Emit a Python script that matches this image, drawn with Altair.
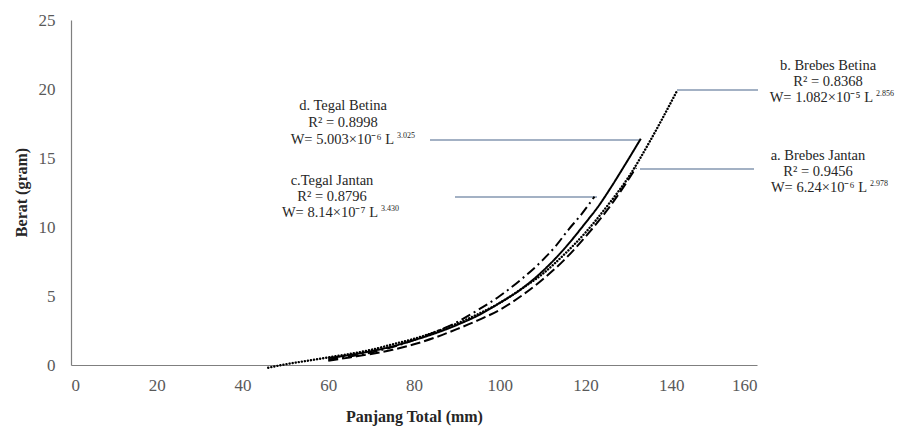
import altair as alt
import pandas as pd

# ---- data ----
# a. Brebes Jantan (long dash)
L_a = [60, 65, 70, 75, 80, 85, 90, 95, 100, 105, 110, 115, 120, 125, 128, 131.8]
W_a = [0.3, 0.55, 0.8, 1.1, 1.5, 2.0, 2.6, 3.25, 4.0, 5.0, 6.2, 7.6, 9.3, 11.2, 12.5, 14.3]
# b. Brebes Betina (dotted)
L_b = [46, 50, 55, 60, 65, 70, 75, 80, 85, 90, 95, 100, 105, 110, 115, 120, 125, 130, 135, 138, 141.4]
W_b = [-0.2, 0.05, 0.3, 0.55, 0.8, 1.1, 1.5, 1.9, 2.4, 3.0, 3.7, 4.5, 5.5, 6.6, 8.0, 9.6, 11.5, 13.6, 16.2, 17.9, 19.9]
# c. Tegal Jantan (dash-dot)
L_c = [60, 65, 70, 75, 80, 85, 90, 95, 100, 105, 110, 113, 116, 119, 122.1]
W_c = [0.4, 0.62, 0.9, 1.3, 1.8, 2.4, 3.1, 4.0, 5.0, 6.2, 7.6, 8.6, 9.8, 10.9, 12.2]
# d. Tegal Betina (solid)
L_d = [60, 65, 70, 75, 80, 85, 90, 95, 100, 105, 110, 115, 120, 123, 126, 129, 132.9]
W_d = [0.5, 0.72, 1.0, 1.35, 1.8, 2.3, 2.9, 3.6, 4.5, 5.5, 6.8, 8.4, 10.3, 11.5, 12.9, 14.4, 16.4]

series_names = ["a", "b", "c", "d"]
x_ticks = [0, 20, 40, 60, 80, 100, 120, 140, 160]
y_ticks = [0, 5, 10, 15, 20, 25]

# label texts
title_lines = {
    "a": "a. Brebes Jantan",
    "b": "b. Brebes Betina",
    "c": "c.Tegal Jantan",
    "d": "d. Tegal Betina",
}
r2_lines = {"a": "R² = 0.9456", "b": "R² = 0.8368", "c": "R² = 0.8796", "d": "R² = 0.8998"}
w_lines = {
    "a": "W= 6.24×10⁻⁶ L",
    "b": "W= 1.082×10⁻⁵ L",
    "c": "W= 8.14×10⁻⁷ L",
    "d": "W= 5.003×10⁻⁶ L",
}
exponents = {"a": "2.978", "b": "2.856", "c": "3.430", "d": "3.025"}

# ---- layout helpers (pixel -> data for annotations) ----
X0, XPX = 71, 686 / 160
Y0, YPX = 365, 345 / 25
def dx(px): return (px - X0) / XPX
def dy(py): return (Y0 - py) / YPX

# annotation anchors (positions, kept separate from data)
label_pos = {  # center x, y of three lines, anchor x of exponent
    "a": (818, [156, 172, 188], 868),
    "b": (828, [66, 82, 98], 874),
    "c": (332, [181, 197, 213], 379),
    "d": (343, [106, 123, 140], 395),
}
connector_pos = {  # x1, x2, y (pixels)
    "a": (640, 754, 169),
    "b": (677, 758, 90),
    "c": (455, 597, 197),
    "d": (430, 639, 140),
}

rows = []
for name, L, W in [("a", L_a, W_a), ("b", L_b, W_b), ("c", L_c, W_c), ("d", L_d, W_d)]:
    for l, w in zip(L, W):
        rows.append({"series": name, "L": l, "W": w})
df = pd.DataFrame(rows)

ann_center, ann_w, ann_exp, conn = [], [], [], []
for s in series_names:
    cx, ys, ax = label_pos[s]
    ann_center.append({"x": dx(cx), "y": dy(ys[0]), "t": title_lines[s]})
    ann_center.append({"x": dx(cx), "y": dy(ys[1]), "t": r2_lines[s]})
    ann_w.append({"x": dx(ax), "y": dy(ys[2]), "t": w_lines[s]})
    ann_exp.append({"x": dx(ax), "y": dy(ys[2]), "t": exponents[s]})
    x1, x2, y = connector_pos[s]
    conn.append({"x": dx(x1), "x2": dx(x2), "y": dy(y)})

FONT = "Liberation Serif"
xs = alt.Scale(domain=[0, 160], nice=False, zero=False)
ys_ = alt.Scale(domain=[0, 25], nice=False, zero=False)

xaxis = alt.Axis(values=x_ticks, grid=False, ticks=False, labelPadding=12,
                 labelFont=FONT, labelFontSize=17, labelColor="#595959",
                 domainColor="#7f7f7f", domainWidth=1.2,
                 title="Panjang Total (mm)", titleFont=FONT, titleFontSize=16,
                 titleFontWeight="bold", titleColor="#262626",
                 titleY=51, titleBaseline="middle")
yaxis = alt.Axis(values=y_ticks, grid=False, ticks=False, labelPadding=16,
                 labelFont=FONT, labelFontSize=17, labelColor="#595959",
                 domainColor="#7f7f7f", domainWidth=1.2,
                 title="Berat  (gram)", titleFont=FONT, titleFontSize=16,
                 titleFontWeight="bold", titleColor="#262626",
                 titleX=-50, titleY=172, titleAngle=-90, titleAlign="center",
                 titleBaseline="middle")

def curve(name, dash, width=2.0, cap="butt"):
    return alt.Chart(df[df.series == name]).mark_line(
        color="black", strokeWidth=width, strokeDash=dash, strokeCap=cap,
        interpolate="monotone"
    ).encode(x=alt.X("L:Q", scale=xs, axis=xaxis), y=alt.Y("W:Q", scale=ys_, axis=yaxis),
             order="L:Q")

c_a = curve("a", [10, 4])
c_b = curve("b", [0.1, 3.0], width=2.4, cap="round")
c_c = curve("c", [10, 4, 2, 4])
c_d = curve("d", [1, 0], width=2.0)

connectors = alt.Chart(pd.DataFrame(conn)).mark_rule(color="#8497B0", strokeWidth=1.6).encode(
    x=alt.X("x:Q", scale=xs), x2="x2:Q", y=alt.Y("y:Q", scale=ys_))

TS = 14.5
t_center = alt.Chart(pd.DataFrame(ann_center)).mark_text(
    font=FONT, fontSize=TS, color="#262626", align="center", baseline="middle"
).encode(x=alt.X("x:Q", scale=xs), y=alt.Y("y:Q", scale=ys_), text="t:N")
t_w = alt.Chart(pd.DataFrame(ann_w)).mark_text(
    font=FONT, fontSize=TS, color="#262626", align="right", baseline="middle", dx=-1
).encode(x=alt.X("x:Q", scale=xs), y=alt.Y("y:Q", scale=ys_), text="t:N")
t_exp = alt.Chart(pd.DataFrame(ann_exp)).mark_text(
    font=FONT, fontSize=8, color="#262626", align="left", baseline="middle", dx=2, dy=-4
).encode(x=alt.X("x:Q", scale=xs), y=alt.Y("y:Q", scale=ys_), text="t:N")

chart = alt.layer(connectors, c_b, c_a, c_c, c_d, t_center, t_w, t_exp).properties(
    width=686, height=345,
    autosize=alt.AutoSizeParams(type="none"),
    padding={"left": 63, "top": 12, "right": 141, "bottom": 64},
).configure_view(stroke=None)

chart.save("out.html", embed_options={"renderer": "svg", "actions": False})
